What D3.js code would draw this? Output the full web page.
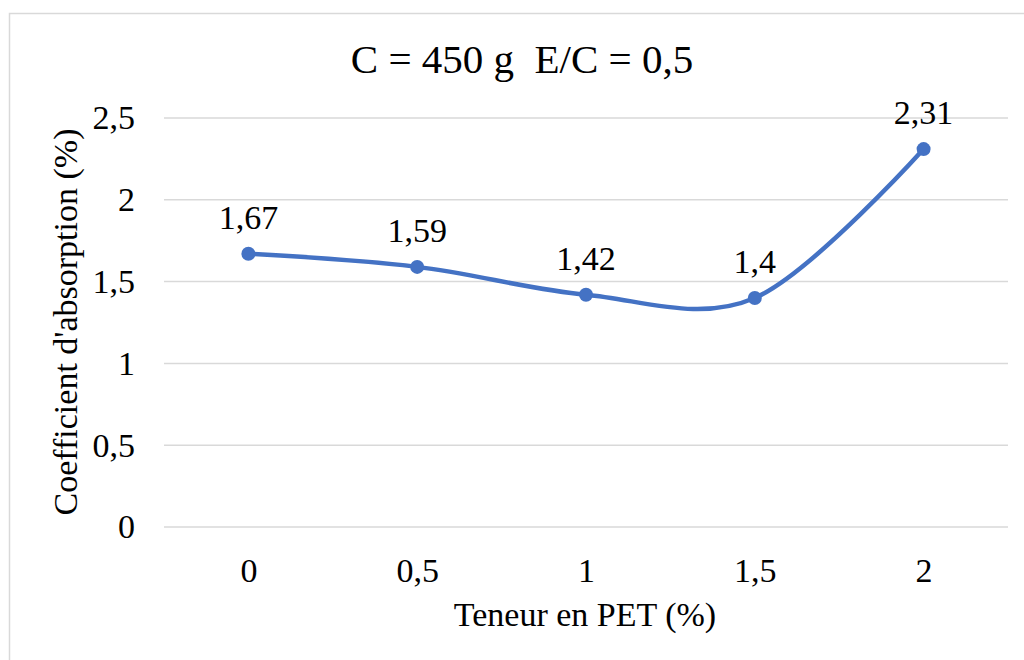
<!DOCTYPE html>
<html>
<head>
<meta charset="utf-8">
<script src="https://cdn.jsdelivr.net/npm/d3@7"></script>
<style>
  body { margin: 0; background: #fff; }
</style>
</head>
<body>
<div id="chart"></div>
<script>
// chart values
var categories = ["0", "0,5", "1", "1,5", "2"];
var values = [1.67, 1.59, 1.42, 1.4, 2.31];
var labels = ["1,67", "1,59", "1,42", "1,4", "2,31"];
var yTicks = [0, 0.5, 1, 1.5, 2, 2.5];
var yTickLabels = ["0", "0,5", "1", "1,5", "2", "2,5"];

var FONT = "'Liberation Serif', 'Times New Roman', serif";

var svgWidth = 1024, svgHeight = 660;
var margin = { top: 118, right: 16, bottom: 133, left: 164 };
var chartWidth = svgWidth - margin.left - margin.right;
var chartHeight = svgHeight - margin.top - margin.bottom;

var svg = d3.select("#chart").append("svg")
    .attr("width", svgWidth)
    .attr("height", svgHeight);

// outer chart border
svg.append("rect")
    .attr("x", 9.5).attr("y", 13.5)
    .attr("width", 1030).attr("height", 670)
    .attr("fill", "none")
    .attr("stroke", "#d9d9d9")
    .attr("stroke-width", 1.5);

var chartGroup = svg.append("g")
    .attr("transform", `translate(${margin.left}, ${margin.top})`);

var xScale = d3.scalePoint()
    .domain(categories)
    .range([0, chartWidth])
    .padding(0.5);

var yScale = d3.scaleLinear()
    .domain([0, 2.5])
    .range([chartHeight, 0]);

// gridlines
chartGroup.selectAll(".grid")
    .data(yTicks)
    .enter()
    .append("line")
    .attr("x1", 0).attr("x2", chartWidth)
    .attr("y1", d => yScale(d)).attr("y2", d => yScale(d))
    .attr("stroke", "#d9d9d9")
    .attr("stroke-width", 1.5);

// y axis
var yAxis = d3.axisLeft(yScale)
    .tickValues(yTicks)
    .tickFormat((d, i) => yTickLabels[i])
    .tickSize(0)
    .tickPadding(29);
chartGroup.append("g")
    .call(yAxis)
    .call(g => g.select(".domain").remove())
    .selectAll("text")
    .style("font-family", FONT)
    .style("font-size", "34px")
    .attr("fill", "#000");

// x axis
var xAxis = d3.axisBottom(xScale).tickSize(0).tickPadding(31);
chartGroup.append("g")
    .attr("transform", `translate(0, ${chartHeight})`)
    .call(xAxis)
    .call(g => g.select(".domain").remove())
    .selectAll("text")
    .style("font-family", FONT)
    .style("font-size", "34px")
    .attr("fill", "#000");

// smoothed line
var line = d3.line()
    .x((d, i) => xScale(categories[i]))
    .y(d => yScale(d))
    .curve(d3.curveCatmullRom.alpha(0));

chartGroup.append("path")
    .datum(values)
    .attr("d", line)
    .attr("fill", "none")
    .attr("stroke", "#4472c4")
    .attr("stroke-width", 4.5)
    .attr("stroke-linecap", "round");

chartGroup.selectAll("circle")
    .data(values)
    .enter()
    .append("circle")
    .attr("cx", (d, i) => xScale(categories[i]))
    .attr("cy", d => yScale(d))
    .attr("r", 7)
    .attr("fill", "#4472c4");

// data labels
chartGroup.selectAll(".lbl")
    .data(values)
    .enter()
    .append("text")
    .attr("x", (d, i) => xScale(categories[i]))
    .attr("y", d => yScale(d) - 25)
    .attr("text-anchor", "middle")
    .style("font-family", FONT)
    .style("font-size", "34px")
    .text((d, i) => labels[i]);

// title
svg.append("text")
    .attr("x", 522)
    .attr("y", 73)
    .attr("text-anchor", "middle")
    .style("font-family", FONT)
    .style("font-size", "41px")
    .style("white-space", "pre")
    .text("C = 450 g  E/C = 0,5");

// axis titles
svg.append("text")
    .attr("x", 585)
    .attr("y", 626)
    .attr("text-anchor", "middle")
    .style("font-family", FONT)
    .style("font-size", "34px")
    .text("Teneur en PET (%)");

svg.append("text")
    .attr("transform", `translate(77, 322) rotate(-90)`)
    .attr("text-anchor", "middle")
    .style("font-family", FONT)
    .style("font-size", "34px")
    .text("Coefficient d'absorption (%)");
</script>
</body>
</html>
